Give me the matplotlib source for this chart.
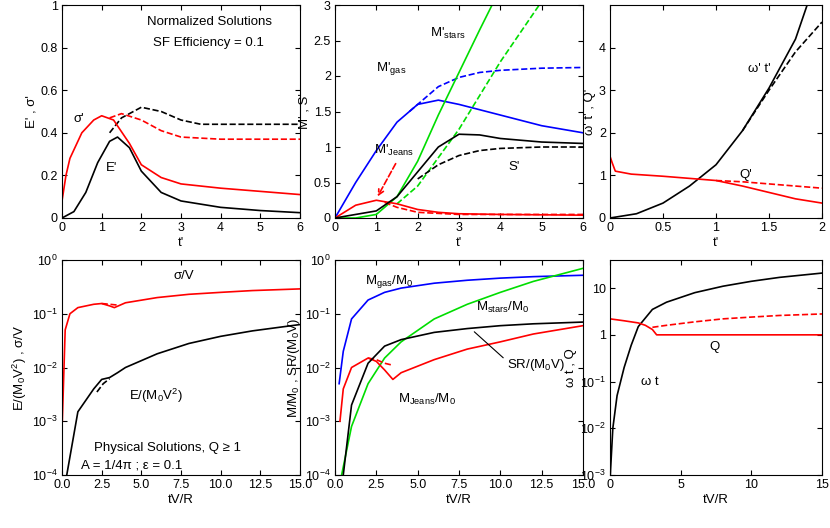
import matplotlib
matplotlib.use("Agg")
import matplotlib.pyplot as plt

plt.rcParams["font.family"] = "Liberation Sans"
plt.rcParams["font.size"] = 9.5
plt.rcParams["xtick.labelsize"] = 9
plt.rcParams["ytick.labelsize"] = 9
plt.rcParams["axes.labelpad"] = 2
plt.rcParams["mathtext.fontset"] = "custom"
plt.rcParams["mathtext.rm"] = "Liberation Sans"
plt.rcParams["mathtext.it"] = "Liberation Sans:italic"

# ---- top-left: E', sigma'
t_E = [0, 0.3, 0.6, 0.9, 1.2, 1.4, 1.7, 2, 2.5, 3, 4, 5, 6]
E_sol = [0, 0.03, 0.12, 0.26, 0.36, 0.38, 0.33, 0.22, 0.12, 0.08, 0.05, 0.035, 0.025]
t_Ed = [1.2, 1.5, 2, 2.5, 3, 3.5, 4, 5, 6]
E_dash = [0.40, 0.47, 0.52, 0.50, 0.46, 0.44, 0.44, 0.44, 0.44]
t_s = [0, 0.1, 0.2, 0.5, 0.8, 1, 1.3, 1.7, 2, 2.5, 3, 4, 5, 6]
s_sol = [0.08, 0.2, 0.28, 0.4, 0.46, 0.48, 0.46, 0.35, 0.25, 0.19, 0.16, 0.14, 0.125, 0.11]
t_sd = [1.2, 1.5, 2, 2.5, 3, 4, 5, 6]
s_dash = [0.47, 0.49, 0.46, 0.41, 0.38, 0.37, 0.37, 0.37]

# ---- top-middle: M', S'
t_g = [0, 0.5, 1, 1.5, 2, 2.5, 3, 4, 5, 6]
gas_sol = [0, 0.5, 0.95, 1.35, 1.6, 1.66, 1.6, 1.45, 1.3, 1.2]
t_gd = [1.8, 2.5, 3, 3.5, 4, 5, 6]
gas_dash = [1.5, 1.85, 1.98, 2.05, 2.08, 2.11, 2.12]
t_st = [0, 0.5, 1, 1.5, 2, 2.5, 3, 3.5, 3.8]
st_sol = [0, 0.0, 0.05, 0.3, 0.8, 1.45, 2.05, 2.65, 3.0]
t_std = [1.5, 2, 3, 4, 5]
st_dash = [0.2, 0.45, 1.25, 2.2, 3.05]
t_j = [0, 0.5, 1, 1.5, 2, 2.5, 3, 4, 6]
j_sol = [0, 0.18, 0.25, 0.2, 0.12, 0.08, 0.06, 0.05, 0.04]
t_jd = [1.2, 1.5, 2, 3, 6]
j_dash = [0.22, 0.15, 0.08, 0.05, 0.05]
t_S = [0, 1, 1.5, 2, 2.5, 3, 3.5, 4, 5, 6]
S_sol = [0, 0.1, 0.3, 0.65, 1.0, 1.18, 1.17, 1.12, 1.07, 1.05]
t_Sd = [2, 2.5, 3, 3.5, 4, 5, 6]
S_dash = [0.55, 0.75, 0.88, 0.95, 0.98, 1.0, 1.0]

# ---- top-right: omega' t', Q'
t_w = [0, 0.25, 0.5, 0.75, 1, 1.25, 1.5, 1.75, 1.86]
w_sol = [0, 0.1, 0.35, 0.75, 1.25, 2.05, 3.05, 4.2, 5.0]
t_wd = [1.25, 1.5, 1.75, 2]
w_dash = [2.05, 3.0, 3.9, 4.6]
t_q = [0, 0.02, 0.05, 0.2, 0.5, 1, 1.25, 1.5, 1.75, 2]
q_sol = [1.45, 1.3, 1.1, 1.03, 0.98, 0.88, 0.75, 0.6, 0.45, 0.35]
t_qd = [1, 1.25, 1.5, 1.75, 2]
q_dash = [0.88, 0.85, 0.8, 0.75, 0.7]

# ---- bottom-left: sigma/V, E/(M0 V^2)
T_s = [0.02, 0.2, 0.5, 1, 2, 2.5, 3, 3.3, 4, 6, 8, 10, 12, 15]
sV = [1e-3, 0.05, 0.1, 0.13, 0.15, 0.155, 0.14, 0.13, 0.16, 0.2, 0.23, 0.25, 0.27, 0.29]
T_sd = [2.5, 3, 3.5]
sV_d = [0.155, 0.15, 0.145]
T_E = [0.3, 1, 2, 2.5, 3, 3.5, 4, 6, 8, 10, 12, 15]
EV = [1e-4, 1.5e-3, 4e-3, 6e-3, 6.5e-3, 8e-3, 1e-2, 1.8e-2, 2.8e-2, 3.8e-2, 4.8e-2, 6.3e-2]
T_Ed = [2.2, 2.6, 3]
EV_d = [3.5e-3, 5e-3, 6.2e-3]

# ---- bottom-middle: masses, SR
T_g = [0.25, 0.5, 1, 2, 3, 4, 6, 8, 10, 12, 15]
Mgas = [5e-3, 0.02, 0.08, 0.18, 0.25, 0.3, 0.37, 0.42, 0.46, 0.49, 0.52]
T_st = [0.4, 1, 2, 3, 4, 6, 8, 10, 12, 15]
Mst = [1e-4, 8e-4, 5e-3, 0.015, 0.03, 0.08, 0.15, 0.25, 0.4, 0.7]
T_j = [0.3, 0.5, 1, 2, 2.5, 3, 3.5, 4, 6, 8, 10, 12, 15]
Mj = [1e-3, 4e-3, 0.01, 0.015, 0.013, 0.009, 0.006, 0.008, 0.014, 0.022, 0.03, 0.042, 0.06]
T_jd = [2, 2.5, 3, 3.5]
Mj_d = [0.015, 0.014, 0.012, 0.011]
T_sr = [0.5, 1, 2, 3, 4, 6, 8, 10, 12, 15]
SR = [1e-4, 2e-3, 0.012, 0.025, 0.033, 0.045, 0.053, 0.06, 0.065, 0.07]

# ---- bottom-right: omega t, Q
T_w = [0.02, 0.2, 0.5, 1, 1.5, 2, 3, 4, 6, 8, 10, 12, 15]
wt = [1e-3, 0.01, 0.05, 0.2, 0.6, 1.5, 3.5, 5, 8, 11, 14, 17, 21]
T_q = [0, 1, 2, 2.5, 3, 3.3, 15]
Q = [2.2, 2.0, 1.8, 1.6, 1.3, 1.0, 1.0]
T_qd = [3, 4, 6, 8, 10, 12, 15]
Q_d = [1.45, 1.6, 1.9, 2.2, 2.4, 2.6, 2.8]

lw = 1.2
fig = plt.figure(figsize=(8.3, 5.28), dpi=100)
W, H = 830, 528
def ax_at(x0, y0, x1, y1):
    return fig.add_axes([x0 / W, 1 - y1 / H, (x1 - x0) / W, (y1 - y0) / H])

a1 = ax_at(62, 5, 300, 218)
a2 = ax_at(335, 5, 583, 218)
a3 = ax_at(610, 5, 822, 218)
b1 = ax_at(62, 260, 300, 475)
b2 = ax_at(335, 260, 583, 475)
b3 = ax_at(610, 260, 822, 475)
for a in (a1, a2, a3, b1, b2, b3):
    a.tick_params(direction="in", top=True, right=True, which="both", pad=3)
for a in (b1, b2, b3):
    a.tick_params(which="minor", length=0)

def num(v):
    return ("%g" % v)

a1.plot(t_E, E_sol, "k-", lw=lw)
a1.plot(t_Ed, E_dash, "k--", lw=lw)
a1.plot(t_s, s_sol, "r-", lw=lw)
a1.plot(t_sd, s_dash, "r--", lw=lw)
a1.set_xlim(0, 6); a1.set_ylim(0, 1)
a1.set_yticks([0, 0.2, 0.4, 0.6, 0.8, 1]); a1.set_yticklabels([num(v) for v in [0, 0.2, 0.4, 0.6, 0.8, 1]])
a1.set_xlabel("t'"); a1.set_ylabel("E' , σ'")
a1.text(1.1, 0.22, "E'"); a1.text(0.3, 0.45, "σ'")
a1.text(5.3, 0.92, "Normalized Solutions", ha="right", va="center")
a1.text(5.1, 0.82, "SF Efficiency = 0.1", ha="right", va="center")

a2.plot(t_g, gas_sol, "b-", lw=lw)
a2.plot(t_gd, gas_dash, "b--", lw=lw)
a2.plot(t_st, st_sol, "-", color="#00dd00", lw=lw)
a2.plot(t_std, st_dash, "--", color="#00dd00", lw=lw)
a2.plot(t_j, j_sol, "r-", lw=lw)
a2.plot(t_jd, j_dash, "r--", lw=lw)
a2.plot(t_S, S_sol, "k-", lw=lw)
a2.plot(t_Sd, S_dash, "k--", lw=lw)
a2.set_xlim(0, 6); a2.set_ylim(0, 3)
yt = [0, 0.5, 1, 1.5, 2, 2.5, 3]
a2.set_yticks(yt); a2.set_yticklabels([num(v) for v in yt])
a2.set_xlabel("t'"); a2.set_ylabel("M' , S'")
a2.text(2.3, 2.6, r"M'$_{\rm stars}$", va="center")
a2.text(1.0, 2.1, r"M'$_{\rm gas}$", va="center")
a2.text(0.95, 0.95, r"M'$_{\rm Jeans}$", va="center")
a2.text(4.2, 0.72, "S'", va="center")
a2.annotate("", xy=(1.0, 0.27), xytext=(1.5, 0.8),
            arrowprops=dict(arrowstyle="->", color="r", ls="--", lw=lw))

a3.plot(t_w, w_sol, "k-", lw=lw)
a3.plot(t_wd, w_dash, "k--", lw=lw)
a3.plot(t_q, q_sol, "r-", lw=lw)
a3.plot(t_qd, q_dash, "r--", lw=lw)
a3.set_xlim(0, 2); a3.set_ylim(0, 5)
a3.set_yticks([0, 1, 2, 3, 4])
a3.set_xticks([0, 0.5, 1, 1.5, 2]); a3.set_xticklabels(["0", "0.5", "1", "1.5", "2"])
a3.set_xlabel("t'"); a3.set_ylabel("ω' t' , Q'")
a3.text(1.3, 3.5, "ω' t'", va="center"); a3.text(1.22, 1.0, "Q'", va="center")

b1.semilogy(T_s, sV, "r-", lw=lw)
b1.semilogy(T_sd, sV_d, "r--", lw=lw)
b1.semilogy(T_E, EV, "k-", lw=lw)
b1.semilogy(T_Ed, EV_d, "k--", lw=lw)
b1.set_xlim(0, 15); b1.set_ylim(1e-4, 1)
b1.set_xlabel("tV/R"); b1.set_ylabel(r"E/(M$_0$V$^2$) , σ/V")
b1.text(7.0, 0.5, "σ/V", va="center")
b1.text(4.2, 3e-3, r"E/(M$_0$V$^2$)", va="center")
b1.text(2.0, 3.2e-4, "Physical Solutions, Q ≥ 1", va="center")
b1.text(1.2, 1.5e-4, "A = 1/4π ; ε = 0.1", va="center")

b2.semilogy(T_g, Mgas, "b-", lw=lw)
b2.semilogy(T_st, Mst, "-", color="#00dd00", lw=lw)
b2.semilogy(T_j, Mj, "r-", lw=lw)
b2.semilogy(T_jd, Mj_d, "r--", lw=lw)
b2.semilogy(T_sr, SR, "k-", lw=lw)
b2.set_xlim(0, 15); b2.set_ylim(1e-4, 1)
b2.set_xlabel("tV/R"); b2.set_ylabel(r"M/M$_0$ , SR/(M$_0$V)")
b2.text(1.8, 0.4, r"M$_{\rm gas}$/M$_0$", va="center")
b2.text(8.5, 0.13, r"M$_{\rm stars}$/M$_0$", va="center")
b2.text(3.8, 2.5e-3, r"M$_{\rm Jeans}$/M$_0$", va="center")
b2.text(10.4, 1.1e-2, r"SR/(M$_0$V)", va="center")
b2.annotate("", xy=(8.3, 0.05), xytext=(10.3, 0.014), arrowprops=dict(arrowstyle="-", lw=0.8))

b3.semilogy(T_w, wt, "k-", lw=lw)
b3.semilogy(T_q, Q, "r-", lw=lw)
b3.semilogy(T_qd, Q_d, "r--", lw=lw)
b3.set_xlim(0, 15); b3.set_ylim(1e-3, 40)
b3.set_yticks([1e-3, 1e-2, 1e-1, 1, 10])
b3.set_yticklabels(["10$^{-3}$", "10$^{-2}$", "10$^{-1}$", "1", "10"])
b3.set_xlabel("tV/R"); b3.set_ylabel("ω t , Q")
b3.text(7, 0.55, "Q", va="center"); b3.text(2.2, 0.1, "ω t", va="center")

fig.savefig("out.png", dpi=100)
